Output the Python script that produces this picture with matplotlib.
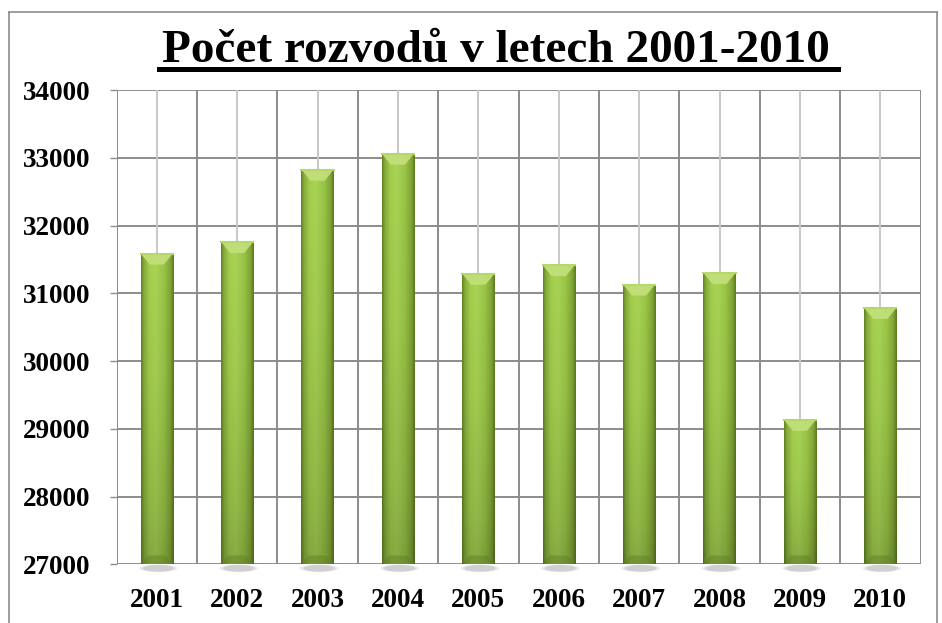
import numpy as np
import matplotlib
matplotlib.use("Agg")
import matplotlib.pyplot as plt
from matplotlib.lines import Line2D
from matplotlib.patches import Polygon, Ellipse
from matplotlib.colors import to_rgb

# data
years = ['2001', '2002', '2003', '2004', '2005', '2006', '2007', '2008', '2009', '2010']
divorces = [31586, 31758, 32824, 33060, 31288, 31415, 31129, 31300, 29133, 30783]
y_min, y_max = 27000, 34000
y_ticks = list(range(27000, 34001, 1000))

W, H = 942, 623
fig = plt.figure(figsize=(W / 100, H / 100), dpi=100)
plt.rcParams['font.family'] = ['Liberation Serif', 'DejaVu Serif']

ax = fig.add_axes([116.5 / W, 1 - 564.3 / H, 804 / W, (564.3 - 90) / H])

grid_dark = '#8c8c8c'
grid_light = '#c8c8c8'
n = len(years)
x = np.arange(n)

# grid: horizontal lines, category boundaries (dark) and category centres (light)
for yv in y_ticks:
    ax.axhline(yv, color=grid_dark, lw=1.4, zorder=1)
for b in np.arange(-0.5, n, 1.0):
    ax.axvline(b, color=grid_dark, lw=1.4, zorder=1)
for c in x:
    ax.axvline(c, color=grid_light, lw=1.4, zorder=1)

# bar gradient (cylinder-like shading)
def lerp_profile(pos, stops):
    ps = [s[0] for s in stops]
    cols = np.array([to_rgb(s[1]) for s in stops])
    return np.stack([np.interp(pos, ps, cols[:, k]) for k in range(3)], axis=-1)

hx = np.linspace(0, 1, 64)
hprof = lerp_profile(hx, [(0.0, '#5f7d24'), (0.08, '#7fa536'), (0.25, '#9cc64a'),
                          (0.45, '#a2cb50'), (0.7, '#93bd44'), (0.9, '#7c9f33'),
                          (1.0, '#5a7620')])
vy = np.linspace(0, 1, 128)  # 0 = top, 1 = bottom
vfac = np.interp(vy, [0, 0.4, 0.85, 1.0], [1.04, 1.0, 0.9, 0.84])
grad = np.clip(vfac[:, None, None] * hprof[None, :, :], 0, 1)

bw = 0.4
px_per_unit = (564.3 - 90) / (y_max - y_min)
cap_h = 11 / px_per_unit

for xi, v in zip(x, divorces):
    # soft shadow under bar
    for k, a in [(1.25, 0.08), (1.1, 0.12), (0.95, 0.16)]:
        sh = Ellipse((xi + 0.02, y_min - 4 / px_per_unit), bw * k, 7 / px_per_unit,
                     facecolor='#707070', edgecolor='none', alpha=a, zorder=2,
                     clip_on=False)
        ax.add_patch(sh)
    rect = ax.bar(xi, v - y_min, bottom=y_min, width=bw, color='#93bd44',
                  edgecolor='none', zorder=3)[0]
    im = ax.imshow(grad, extent=[xi - bw / 2, xi + bw / 2, y_min, v],
                   aspect='auto', zorder=4, interpolation='bilinear')
    im.set_clip_path(rect)
    # light bevel at the top of the bar
    cap = Polygon([(xi - bw / 2, v), (xi + bw / 2, v),
                   (xi + bw * 0.22, v - cap_h), (xi - bw * 0.22, v - cap_h)],
                  closed=True, facecolor='#c4e07c', edgecolor='none', alpha=0.9,
                  zorder=5)
    ax.add_patch(cap)
    ax.add_line(Line2D([xi - bw / 2, xi + bw / 2], [v, v], color='#b5d86a',
                       lw=1.5, zorder=6))
    # darker bevel at the bottom
    base = Polygon([(xi - bw / 2, y_min), (xi + bw / 2, y_min),
                    (xi + bw * 0.28, y_min + cap_h * 0.8),
                    (xi - bw * 0.28, y_min + cap_h * 0.8)],
                   closed=True, facecolor='#5e7d24', edgecolor='none', alpha=0.45,
                   zorder=5)
    ax.add_patch(base)

ax.set_xlim(-0.5, n - 0.5)
ax.set_ylim(y_min, y_max)
ax.set_yticks(y_ticks)
ax.set_yticklabels([str(t) for t in y_ticks])
ax.set_xticks(x)
ax.set_xticklabels(years)

for s in ax.spines.values():
    s.set_visible(False)

ax.tick_params(axis='y', length=5.2, width=1.0, color=grid_dark, pad=13.5,
               labelsize=19.5)
ax.tick_params(axis='x', length=0, pad=17, labelsize=19.5)
for lbl in ax.get_xticklabels() + ax.get_yticklabels():
    lbl.set_fontweight('bold')

# title with underline
title_x = 496 / W
fig.text(title_x, 1 - 61.7 / H, 'Počet rozvodů v letech 2001-2010',
         ha='center', va='baseline', fontsize=34, fontweight='bold')
fig.add_artist(Line2D([159 / W, 838 / W], [1 - 69 / H, 1 - 69 / H],
                      color='black', lw=3.6, transform=fig.transFigure))

# outer frame of the chart area
frame_col = '#8c8c8c'
fig.add_artist(Line2D([8.5 / W, 8.5 / W], [0, 1 - 12 / H], color=frame_col, lw=1.2,
                      transform=fig.transFigure))
fig.add_artist(Line2D([8.5 / W, 937 / W], [1 - 12 / H, 1 - 12 / H], color=frame_col,
                      lw=1.2, transform=fig.transFigure))
fig.add_artist(Line2D([937 / W, 937 / W], [0, 1 - 12 / H], color=frame_col, lw=1.2,
                      transform=fig.transFigure))

fig.savefig('out.png', dpi=100)
